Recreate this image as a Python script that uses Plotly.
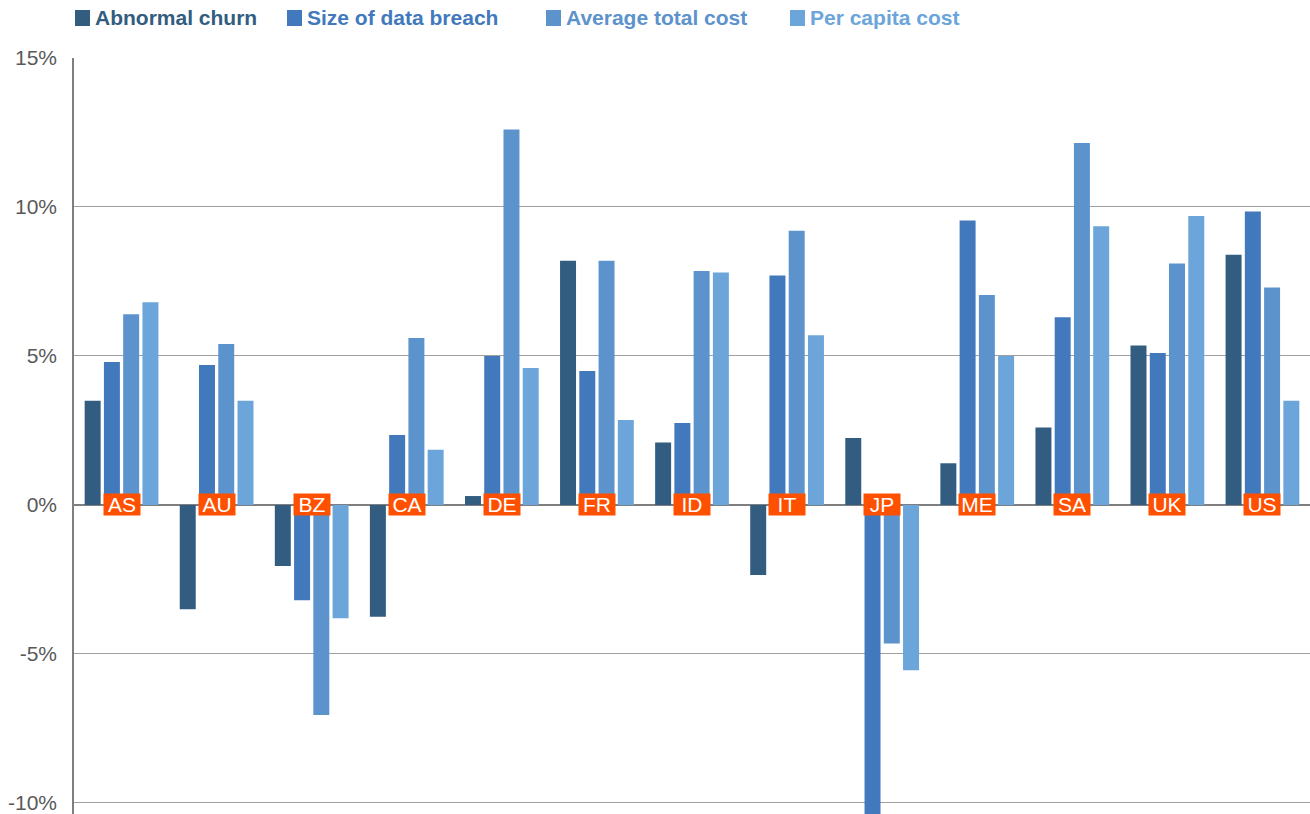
import plotly.graph_objects as go

categories = ["AS", "AU", "BZ", "CA", "DE", "FR", "ID", "IT", "JP", "ME", "SA", "UK", "US"]
abnormal_churn = [3.5, -3.5, -2.05, -3.75, 0.3, 8.2, 2.1, -2.35, 2.25, 1.4, 2.6, 5.35, 8.4]
size_of_breach = [4.8, 4.7, -3.2, 2.35, 5.0, 4.5, 2.75, 7.7, -10.6, 9.55, 6.3, 5.1, 9.85]
average_total_cost = [6.4, 5.4, -7.05, 5.6, 12.6, 8.2, 7.85, 9.2, -4.65, 7.05, 12.15, 8.1, 7.3]
per_capita_cost = [6.8, 3.5, -3.8, 1.85, 4.6, 2.85, 7.8, 5.7, -5.55, 5.0, 9.35, 9.7, 3.5]

series_names = ["Abnormal churn", "Size of data breach", "Average total cost", "Per capita cost"]
series_values = [abnormal_churn, size_of_breach, average_total_cost, per_capita_cost]
series_colors = ["#325D80", "#4279BD", "#5D93CD", "#6BA5DA"]
legend_x_px = [75, 287, 546, 790]  # legend swatch left edges (page pixels)

W, H = 1310, 814
L, R, T, B = 74, 0, 58, 0
FONT = "Liberation Sans, Arial, Helvetica"

fig = go.Figure()
for name, vals, color in zip(series_names, series_values, series_colors):
    fig.add_trace(go.Bar(x=categories, y=vals, marker_color=color,
                         marker_line_width=0, name=name, showlegend=False))

for c in categories:
    fig.add_annotation(
        x=c, y=0, text=c, showarrow=False, xref="x", yref="y",
        font=dict(family=FONT, size=21, color="white"),
        bgcolor="#FF5000", borderpad=0, width=36, height=21,
        yanchor="middle", align="center", valign="middle",
    )

plot_w = W - L - R
plot_h = H - T - B
for name, color, px in zip(series_names, series_colors, legend_x_px):
    x0 = (px - L) / plot_w
    x1 = (px + 15 - L) / plot_w
    y0 = 1 + (T - 26) / plot_h
    y1 = 1 + (T - 10) / plot_h
    fig.add_shape(type="rect", xref="paper", yref="paper", x0=x0, x1=x1, y0=y0, y1=y1,
                  fillcolor=color, line_width=0)
    fig.add_annotation(
        x=(px + 19 - L) / plot_w, y=1 + (T - 18) / plot_h, xref="paper", yref="paper",
        text=f"<b>{name}</b>", showarrow=False, xanchor="left", yanchor="middle",
        borderpad=0, font=dict(family=FONT, size=21, color=color),
    )

fig.update_layout(
    width=W, height=H,
    margin=dict(l=L, r=R, t=T, b=B, autoexpand=False),
    plot_bgcolor="white", paper_bgcolor="white",
    barmode="group", bargap=0.19, bargroupgap=0.17,
    font=dict(family=FONT, size=21, color="#595959"),
    showlegend=False,
)
fig.update_xaxes(showticklabels=False, showgrid=False, zeroline=False, showline=False,
                 ticks="", automargin=False)
fig.update_yaxes(
    range=[-10.37, 15], tickvals=[-10, -5, 0, 5, 10, 15],
    ticktext=["-10%", "-5%", "0%", "5%", "10%", "15%"],
    showgrid=True, gridcolor="#A0A0A0", gridwidth=1,
    zeroline=True, zerolinecolor="#7F7F7F", zerolinewidth=1.5,
    showline=True, linecolor="#7F7F7F", linewidth=1.5,
    ticks="", ticklabelstandoff=11, automargin=False, ticklabeloverflow="allow",
)
fig.write_html(
    "out.html",
    config={"displayModeBar": False},
    post_script="document.body.style.margin='0';document.body.style.overflow='hidden';",
)
